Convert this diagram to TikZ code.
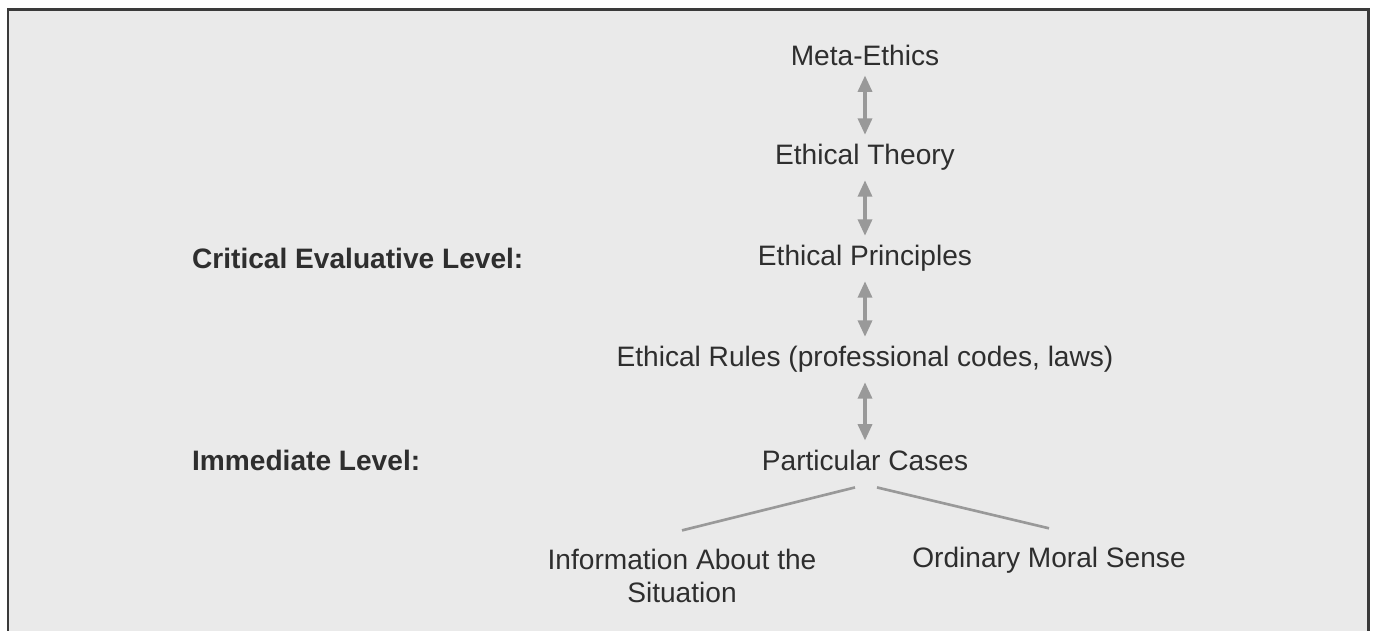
\documentclass[tikz,border=0pt]{standalone}
\usepackage{fontspec}
\setmainfont{Liberation Sans}
\usetikzlibrary{arrows.meta,positioning}
\definecolor{EthicsFrame}{HTML}{3A3A3A}
\definecolor{EthicsPanel}{HTML}{EAEAEA}
\definecolor{EthicsText}{HTML}{2E2E2E}
\definecolor{EthicsArrow}{HTML}{999999}
\tikzset{
  tier/.style={
    text=EthicsText,
    font=\fontsize{16}{19}\selectfont,
    align=center,
    inner sep=1pt
  },
  tierlabel/.style={tier,font=\fontsize{16}{19}\selectfont\bfseries,anchor=west},
  twoway/.style={
    {Triangle[length=3.3mm,width=2.8mm]}-{Triangle[length=3.3mm,width=2.8mm]},
    draw=EthicsArrow,
    line width=0.7mm,
    shorten <=1.6mm,
    shorten >=1.4mm
  },
  branch/.style={draw=EthicsArrow,line width=1.5pt}
}
\begin{document}
\begin{tikzpicture}[x=0.02cm,y=-0.02cm]
  \useasboundingbox (0,0) rectangle (1376,630);
  % panel
  \fill[EthicsPanel] (8,9) rectangle (1368,632);
  \draw[EthicsFrame,line width=0.6mm] (8,632) -- (8,9) -- (1368,9) -- (1368,632);

  \node[tier] (meta) at (865,55) {Meta-Ethics};
  \node[tier] (theory) at (865,157) {Ethical Theory};
  \node[tier] (principles) at (865,258) {Ethical Principles};
  \node[tier] (rules) at (865,359) {Ethical Rules (professional codes, laws)};
  \node[tier] (cases) at (865,460) {Particular Cases};
  \node[tier] (info) at (682,576) {Information About the\\Situation};
  \node[tier] (sense) at (1049,560) {Ordinary Moral Sense};

  \node[tierlabel] (critical) at (190,258) {Critical Evaluative Level:};
  \node[tierlabel] (immediate) at (190,460) {Immediate Level:};

  \draw[twoway] (meta) -- (theory);
  \draw[twoway] (theory) -- (principles);
  \draw[twoway] (principles) -- (rules);
  \draw[twoway] (rules) -- (cases);

  \draw[branch] ([xshift=-0.2cm,yshift=-0.3cm]cases.south) -- ([yshift=0.33cm]info.north);
  \draw[branch] ([xshift=0.24cm,yshift=-0.3cm]cases.south) -- ([yshift=0.33cm]sense.north);
\end{tikzpicture}
\end{document}
